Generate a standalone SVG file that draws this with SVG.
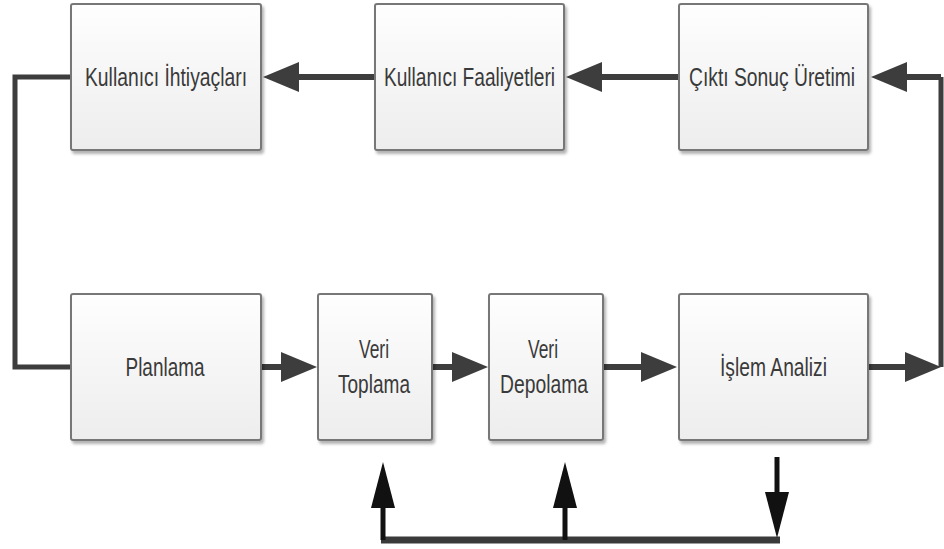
<svg xmlns="http://www.w3.org/2000/svg" width="944" height="549" viewBox="0 0 944 549">
  <defs>
    <linearGradient id="boxFill" x1="0" y1="0" x2="0" y2="1">
      <stop offset="0" stop-color="#fefefe"/>
      <stop offset="1" stop-color="#ededed"/>
    </linearGradient>
    <filter id="shadow" x="-10%" y="-10%" width="125%" height="125%">
      <feDropShadow dx="2" dy="3" stdDeviation="1.6" flood-color="#000" flood-opacity="0.3"/>
    </filter>
    <!-- flow arrowhead: drawn from the end of the line outwards -->
    <marker id="head" markerUnits="userSpaceOnUse" markerWidth="36" markerHeight="30" refX="0" refY="15" orient="auto" overflow="visible">
      <path d="M0,0 L36,15 L0,30 Z" fill="#3d3d3d"/>
    </marker>
    <marker id="headB" markerUnits="userSpaceOnUse" markerWidth="46" markerHeight="24" refX="0" refY="12" orient="auto" overflow="visible">
      <path d="M0,0 L46,12 L0,24 Z" fill="#111"/>
    </marker>
    <style>
      .box { fill: url(#boxFill); stroke: #777; stroke-width: 2; filter: url(#shadow); }
      .lbl { font-family: "Liberation Sans", Arial, sans-serif; font-size: 26px; fill: #3a3a3a; text-anchor: middle; }
      .flow { fill: none; stroke: #3d3d3d; stroke-width: 6; stroke-linejoin: miter; }
      .loop { fill: none; stroke: #3d3d3d; stroke-width: 5; }
      .fb { fill: none; stroke: #111; stroke-width: 5; }
      .bus { fill: none; stroke: #3a3a3a; stroke-width: 7; }
    </style>
  </defs>

  <!-- connectors -->
  <g id="connectors">
    <path class="flow" d="M679,77 H602" marker-end="url(#head)"/>
    <path class="flow" d="M375,77 H299" marker-end="url(#head)"/>
    <path class="loop" d="M71,77 H15 V367 H71"/>
    <path class="flow" d="M261,367 H281" marker-end="url(#head)"/>
    <path class="flow" d="M432,367 H452" marker-end="url(#head)"/>
    <path class="flow" d="M603,367 H641" marker-end="url(#head)"/>
    <path class="flow" d="M868,367 H905" marker-end="url(#head)"/>
    <path class="loop" d="M941,367 V77" stroke-width="4"/>
    <path class="flow" d="M941,77 H907" marker-end="url(#head)"/>
    <path class="bus" d="M381,540 H780"/>
    <path class="fb" d="M383,540 V508" marker-end="url(#headB)"/>
    <path class="fb" d="M565,540 V508" marker-end="url(#headB)"/>
    <path class="fb" d="M777,457 V492" marker-end="url(#headB)"/>
  </g>

  <!-- top row -->
  <g id="kullanici-ihtiyaclari">
    <rect class="box" x="71" y="4" width="190" height="146" rx="2"/>
    <text class="lbl" x="166" y="86" textLength="162" lengthAdjust="spacingAndGlyphs">Kullanıcı İhtiyaçları</text>
  </g>
  <g id="kullanici-faaliyetleri">
    <rect class="box" x="375" y="4" width="189" height="146" rx="2"/>
    <text class="lbl" x="469.5" y="86" textLength="171" lengthAdjust="spacingAndGlyphs">Kullanıcı Faaliyetleri</text>
  </g>
  <g id="cikti-sonuc-uretimi">
    <rect class="box" x="679" y="4" width="189" height="146" rx="2"/>
    <text class="lbl" x="772" y="86" textLength="166" lengthAdjust="spacingAndGlyphs">Çıktı Sonuç Üretimi</text>
  </g>

  <!-- bottom row -->
  <g id="planlama">
    <rect class="box" x="71" y="294" width="190" height="146" rx="2"/>
    <text class="lbl" x="165" y="376" textLength="79" lengthAdjust="spacingAndGlyphs">Planlama</text>
  </g>
  <g id="veri-toplama">
    <rect class="box" x="318" y="294" width="114" height="146" rx="2"/>
    <text class="lbl" x="374" y="358" textLength="30" lengthAdjust="spacingAndGlyphs">Veri</text>
    <text class="lbl" x="374" y="393" textLength="72" lengthAdjust="spacingAndGlyphs">Toplama</text>
  </g>
  <g id="veri-depolama">
    <rect class="box" x="489" y="294" width="114" height="146" rx="2"/>
    <text class="lbl" x="543" y="358" textLength="30" lengthAdjust="spacingAndGlyphs">Veri</text>
    <text class="lbl" x="544" y="393" textLength="88" lengthAdjust="spacingAndGlyphs">Depolama</text>
  </g>
  <g id="islem-analizi">
    <rect class="box" x="679" y="294" width="189" height="146" rx="2"/>
    <text class="lbl" x="773.5" y="376" textLength="107" lengthAdjust="spacingAndGlyphs">İşlem Analizi</text>
  </g>
</svg>
